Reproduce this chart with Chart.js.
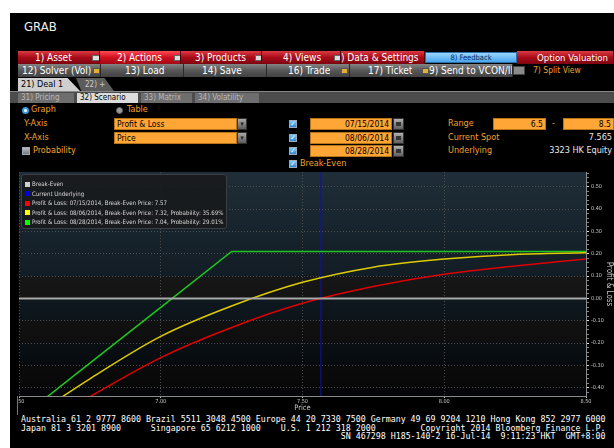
<!DOCTYPE html>
<html>
<head>
<meta charset="utf-8">
<title>GRAB - Option Valuation</title>
<script src="https://cdn.jsdelivr.net/npm/chart.js@4.4.1/dist/chart.umd.min.js"></script>
<style>
    html, body { margin: 0; padding: 0; width: 614px; height: 448px; overflow: hidden; background: #fff; }
    body { position: relative; font-family: "DejaVu Sans Condensed", "DejaVu Sans", sans-serif; font-stretch: condensed; }
    .a { position: absolute; white-space: nowrap; }
    #screen { left: 10px; top: 13px; width: 604px; height: 435px; background: #000; }
    #title { left: 24px; top: 19px; color: #eee; font-size: 13px; }

    .redbar { top: 51px; height: 13px; background: linear-gradient(#dc3a44, #a80b18 50%, #7c0610); border-right: 1px solid #4a0008; box-sizing: border-box; overflow: hidden; }
    .redbar.on { background: linear-gradient(#ff4a55, #d0101f 50%, #a00a16); }
    .bar-text { color: #fff; font-size: 10px; line-height: 13px; }
    .icon { width: 6px; height: 4px; background: #ddd; border: 1px solid #666; top: 4px; }
    .feedback { left: 425px; top: 52px; width: 92px; height: 11px; background: linear-gradient(#9ad6ff, #4aa6ec); border: 1px solid #2d6fa8; box-sizing: border-box; color: #0a2c5e; font-size: 7.5px; line-height: 9px; text-align: center; }

    .greybar { top: 64px; height: 13px; background: linear-gradient(#848484, #575757 50%, #424242); border-right: 1px solid #2a2a2a; box-sizing: border-box; overflow: hidden; }
    .gicon { width: 5px; height: 4px; background: #e0b030; border: 1px solid #555; top: 4px; }

    .tab { top: 78px; height: 13px; font-size: 9px; line-height: 13px; padding-left: 3px; box-sizing: border-box; }
    .subrow { left: 10px; top: 91px; width: 604px; height: 12px; background: #4c4c4c; border-top: 1px solid #888; box-sizing: border-box; }
    .sub { top: 93px; height: 10px; font-size: 8px; line-height: 10px; padding-left: 3px; box-sizing: border-box; background: #6e6e6e; color: #b8b8b8; }

    .org { color: #f0a030; font-size: 9px; line-height: 11px; }
    .wht { color: #e8e8e8; font-size: 9px; line-height: 11px; }
    .obox { height: 12px; background: #ffa636; border: 1px solid #b87418; box-sizing: border-box; color: #000; font-size: 8.5px; line-height: 10px; padding: 0 2px; }
    .btn { width: 10px; height: 12px; background: linear-gradient(#a8a8a8, #5c5c5c); border: 1px solid #333; box-sizing: border-box; color: #222; font-size: 7px; line-height: 10px; text-align: center; }
    .cal { width: 11px; height: 12px; background: linear-gradient(#b0b0b0, #606060); border: 1px solid #333; box-sizing: border-box; }
    .cal::after { content: ""; position: absolute; left: 2px; top: 3px; width: 5px; height: 4px; background: #333; }
    .chk { width: 8px; height: 8px; background: linear-gradient(#7cc8ff, #2f86d0); border: 1px solid #9ab; box-sizing: border-box; color: #fff; font-size: 7px; line-height: 7px; text-align: center; font-weight: bold; }
    .chk.off { background: linear-gradient(#bbb, #777); color: transparent; }
    .radio { width: 7px; height: 7px; border-radius: 50%; box-sizing: border-box; }

    #chart { position: absolute; left: 17px; top: 172px; }
    #legend { left: 21px; top: 174px; width: 206px; height: 55px; background: rgba(24, 26, 28, 0.9); border: 1px solid #3c3f44; border-radius: 3px; box-sizing: border-box; }
    .leg { position: absolute; left: 3px; color: #d8d8d8; font-size: 6.1px; line-height: 7px; white-space: nowrap; }
    .leg i { display: inline-block; width: 5px; height: 5px; margin-right: 2px; vertical-align: -0.5px; }

    .foot { color: #fff; font-family: "DejaVu Sans Mono", monospace; font-size: 8.3px; line-height: 8.6px; margin: 0; white-space: pre; }
</style>
</head>
<body>
<div class="a" id="screen"></div>
<div class="a" id="title">GRAB</div>

<!-- barra roja -->
<div class="a redbar" style="left:18px;width:82px"><span class="a bar-text" style="left:17px">1) Asset</span><span class="a icon" style="left:74px"></span></div>
<div class="a redbar on" style="left:100px;width:81px"><span class="a bar-text" style="left:17px">2) Actions</span><span class="a icon" style="left:74px"></span></div>
<div class="a redbar" style="left:181px;width:81px"><span class="a bar-text" style="left:14px">3) Products</span><span class="a icon" style="left:74px"></span></div>
<div class="a redbar" style="left:262px;width:79px"><span class="a bar-text" style="left:21px">4) Views</span><span class="a icon" style="left:72px"></span></div>
<div class="a redbar" style="left:341px;width:84px"><span class="a bar-text" style="left:0px">) Data &amp; Settings</span></div>
<div class="a feedback">8) Feedback</div>
<div class="a redbar" style="left:517px;width:97px"><span class="a bar-text" style="left:20px;font-size:9.5px">Option Valuation</span></div>

<!-- barra gris -->
<div class="a greybar" style="left:18px;width:83px"><span class="a bar-text" style="left:4px">12) Solver (Vol)</span><span class="a gicon" style="left:75px"></span></div>
<div class="a greybar" style="left:101px;width:83px"><span class="a bar-text" style="left:24px">13) Load</span></div>
<div class="a greybar" style="left:184px;width:83px"><span class="a bar-text" style="left:18px">14) Save</span></div>
<div class="a greybar" style="left:267px;width:83px"><span class="a bar-text" style="left:21px">16) Trade</span><span class="a gicon" style="left:74px"></span></div>
<div class="a greybar" style="left:350px;width:163px"><span class="a bar-text" style="left:18px">17) Ticket</span><span class="a gicon" style="left:72px"></span><span class="a bar-text" style="left:79px">9) Send to VCON/IB</span></div>
<div class="a" style="left:513px;top:66px;width:12px;height:9px;background:#8a8a8a;border:1px solid #444;box-sizing:border-box"></div>
<div class="a org" style="left:533px;top:65px;font-size:8.5px">7) Split View</div>

<!-- pestañas -->
<div class="a tab" style="left:18px;width:62px;background:#cfcfcf;color:#000;clip-path:polygon(0 0,80% 0,100% 100%,0 100%)">21) Deal 1</div>
<div class="a tab" style="left:76px;width:38px;background:#5c5c5c;color:#ccc;padding-left:9px;font-size:8px;clip-path:polygon(0 0,75% 0,100% 100%,14% 100%)">22) +</div>
<div class="a subrow"></div>
<div class="a sub" style="left:18px;width:56px">31) Pricing</div>
<div class="a sub" style="left:77px;width:61px;background:#dcdcdc;color:#000">32) Scenario</div>
<div class="a sub" style="left:141px;width:51px">33) Matrix</div>
<div class="a sub" style="left:195px;width:64px">34) Volatility</div>

<!-- controles -->
<div class="a radio" style="left:22px;top:107px;background:#fff;border:2px solid #3a9be0"></div>
<div class="a org" style="left:31px;top:104px">Graph</div>
<div class="a radio" style="left:116px;top:107px;background:#999;border:1px solid #666"></div>
<div class="a org" style="left:127px;top:104px">Table</div>

<div class="a org" style="left:24px;top:118px">Y-Axis</div>
<div class="a obox" style="left:114px;top:118px;width:123px">Profit &amp; Loss</div>
<div class="a btn" style="left:237px;top:118px">&#9662;</div>
<div class="a org" style="left:24px;top:132px">X-Axis</div>
<div class="a obox" style="left:114px;top:132px;width:123px">Price</div>
<div class="a btn" style="left:237px;top:132px">&#9662;</div>
<div class="a chk off" style="left:22px;top:147px"></div>
<div class="a org" style="left:33px;top:145px">Probability</div>

<div class="a chk" style="left:289px;top:120px">&#10003;</div>
<div class="a chk" style="left:289px;top:134px">&#10003;</div>
<div class="a chk" style="left:289px;top:147px">&#10003;</div>
<div class="a chk" style="left:289px;top:160px">&#10003;</div>
<div class="a org" style="left:300px;top:158px">Break-Even</div>
<div class="a obox" style="left:310px;top:118px;width:82px;text-align:right">07/15/2014</div>
<div class="a obox" style="left:310px;top:132px;width:82px;text-align:right">08/06/2014</div>
<div class="a obox" style="left:310px;top:145px;width:82px;text-align:right">08/28/2014</div>
<div class="a cal" style="left:393px;top:118px"></div>
<div class="a cal" style="left:393px;top:132px"></div>
<div class="a cal" style="left:393px;top:145px"></div>

<div class="a org" style="left:448px;top:118px">Range</div>
<div class="a obox" style="left:493px;top:118px;width:53px;text-align:right">6.5</div>
<div class="a org" style="left:552px;top:118px">-</div>
<div class="a obox" style="left:563px;top:118px;width:51px;text-align:right">8.5</div>
<div class="a org" style="left:448px;top:132px">Current Spot</div>
<div class="a wht" style="right:2px;top:132px">7.565</div>
<div class="a org" style="left:448px;top:145px">Underlying</div>
<div class="a wht" style="right:2px;top:145px">3323 HK Equity</div>

<!-- gráfico -->
<canvas id="chart" width="597" height="242"></canvas>
<div class="a" id="legend"></div>
<div class="a" style="left:17px;top:396px;width:1px;height:19px;background:#777"></div>

<pre class="a foot" style="left:21px;top:415px">Australia 61 2 9777 8600 Brazil 5511 3048 4500 Europe 44 20 7330 7500 Germany 49 69 9204 1210 Hong Kong 852 2977 6000
Japan 81 3 3201 8900      Singapore 65 6212 1000    U.S. 1 212 318 2000         Copyright 2014 Bloomberg Finance L.P.
                                                                SN 467298 H185-140-2 16-Jul-14  9:11:23 HKT  GMT+8:00</pre>

<script>
// Valores
const prices = [6.50, 6.75, 7.00, 7.25, 7.50, 7.75, 8.00, 8.25, 8.50];
const pnlJul15 = [-0.62, -0.44, -0.265, -0.13, -0.022, 0.053, 0.108, 0.145, 0.176];
const pnlAug06 = [-0.57, -0.36, -0.17, -0.034, 0.072, 0.14, 0.176, 0.197, 0.204];
const pnlAug28 = [-0.54, -0.29, -0.04, 0.21, 0.21, 0.21, 0.21, 0.21, 0.21];
const currentSpot = 7.565;
const breakEvenLevel = 0;

const xTickValues = [6.5, 7.0, 7.5, 8.0, 8.5];
const yTickValues = [-0.4, -0.3, -0.2, -0.1, 0.0, 0.1, 0.2, 0.3, 0.4, 0.5];
const yMin = -0.437;
const yMax = 0.566;

const legendLabels = [
    'Break-Even',
    'Current Underlying',
    'Profit & Loss: 07/15/2014, Break-Even Price: 7.57',
    'Profit & Loss: 08/06/2014, Break-Even Price: 7.32, Probability: 35.69%',
    'Profit & Loss: 08/28/2014, Break-Even Price: 7.04, Probability: 29.01%'
];
const legendColors = ['#d0d0d0', '#0000ee', '#ff0000', '#ffff00', '#00ff00'];

function toPoints(values) {
    return prices.map((p, i) => ({ x: p, y: values[i] }));
}

function isMajor(v) {
    return yTickValues.some(t => Math.abs(t - v) < 1e-6);
}

// Fondo del área del gráfico (bandas con degradado)
const plotBackground = {
    id: 'plotBackground',
    beforeDraw(chart) {
        const { ctx, chartArea: a, scales: { y } } = chart;
        ctx.save();
        const g = ctx.createLinearGradient(0, a.top, 0, a.bottom);
        g.addColorStop(0, '#1f2e38');
        g.addColorStop(0.5, '#111b23');
        g.addColorStop(1, '#030507');
        ctx.fillStyle = g;
        ctx.fillRect(a.left, a.top, a.width, a.height);
        const n = ctx.createLinearGradient(0, a.top, 0, a.bottom);
        n.addColorStop(0, '#242424');
        n.addColorStop(1, '#070707');
        ctx.fillStyle = n;
        [[0, 0.1], [-0.2, -0.1], [-0.4, -0.3]].forEach(([lo, hi]) => {
            const top = y.getPixelForValue(hi);
            const bottom = y.getPixelForValue(lo);
            ctx.fillRect(a.left, top, a.width, bottom - top);
        });
        ctx.restore();
    }
};

function renderLegend() {
    const box = document.getElementById('legend');
    legendLabels.forEach((text, i) => {
        const row = document.createElement('div');
        row.className = 'leg';
        row.style.top = (5 + i * 9.5) + 'px';
        row.innerHTML = '<i style="background:' + legendColors[i] + '"></i>';
        row.appendChild(document.createTextNode(text));
        box.appendChild(row);
    });
}

function renderChart() {
    const ctx = document.getElementById('chart').getContext('2d');
    const tickFont = { family: '"DejaVu Sans Condensed", "DejaVu Sans", sans-serif', size: 5.5 };

    new Chart(ctx, {
        type: 'scatter',
        data: {
            datasets: [
                {
                    label: legendLabels[0],
                    data: [{ x: prices[0], y: breakEvenLevel }, { x: prices[prices.length - 1], y: breakEvenLevel }],
                    showLine: true, borderColor: '#a8a8a8', borderWidth: 2, pointRadius: 0
                },
                {
                    label: legendLabels[2],
                    data: toPoints(pnlJul15),
                    showLine: true, borderColor: '#e00000', borderWidth: 1.5, pointRadius: 0,
                    cubicInterpolationMode: 'monotone'
                },
                {
                    label: legendLabels[3],
                    data: toPoints(pnlAug06),
                    showLine: true, borderColor: '#ddcc00', borderWidth: 1.5, pointRadius: 0,
                    cubicInterpolationMode: 'monotone'
                },
                {
                    label: legendLabels[4],
                    data: toPoints(pnlAug28),
                    showLine: true, borderColor: '#1ec81e', borderWidth: 1.5, pointRadius: 0, tension: 0
                },
                {
                    label: legendLabels[1],
                    data: [{ x: currentSpot, y: yMin }, { x: currentSpot, y: yMax }],
                    showLine: true, borderColor: '#1212a8', borderWidth: 1, pointRadius: 0
                }
            ]
        },
        options: {
            responsive: false,
            animation: false,
            devicePixelRatio: 1,
            layout: { padding: { left: 2, right: 0, top: 0, bottom: 0 } },
            plugins: {
                legend: { display: false },
                tooltip: { enabled: false }
            },
            scales: {
                x: {
                    type: 'linear',
                    min: prices[0],
                    max: prices[prices.length - 1],
                    afterBuildTicks: scale => { scale.ticks = xTickValues.map(v => ({ value: v })); },
                    afterFit: scale => { scale.height = 18; scale.paddingLeft = 0; scale.paddingRight = 0; },
                    grid: { color: '#4e4e4e', tickColor: '#bbb', tickLength: 2 },
                    border: { color: '#8a8a8a', dash: [1, 2] },
                    ticks: {
                        color: '#c8c8c8', font: tickFont, padding: 0, maxRotation: 0,
                        callback: v => v.toFixed(2)
                    },
                    title: {
                        display: true, text: 'Price', color: '#c8c8c8',
                        font: { family: tickFont.family, size: 7.5 }, padding: { top: 0, bottom: 1.5 }
                    }
                },
                y: {
                    type: 'linear',
                    position: 'right',
                    min: yMin,
                    max: yMax,
                    afterBuildTicks: scale => {
                        // ticks menores cada 0.02
                        const ticks = [];
                        for (let k = Math.ceil(yMin / 0.02); k * 0.02 <= yMax; k++) {
                            ticks.push({ value: Math.round(k * 2) / 100 });
                        }
                        scale.ticks = ticks;
                    },
                    afterFit: scale => { scale.width = 28; scale.paddingTop = 0; scale.paddingBottom = 0; },
                    grid: {
                        color: c => (c.tick && isMajor(c.tick.value)) ? '#4e4e4e' : 'transparent',
                        tickColor: c => (c.tick && isMajor(c.tick.value)) ? '#e0e0e0' : '#8a8a8a',
                        tickLength: 3
                    },
                    border: { color: '#8a8a8a', dash: [1, 2] },
                    ticks: {
                        color: '#c8c8c8', font: tickFont, padding: 2, autoSkip: false,
                        callback: v => isMajor(v) ? v.toFixed(2) : ''
                    },
                    title: {
                        display: true, text: 'Profit & Loss', color: '#c8c8c8',
                        font: { family: tickFont.family, size: 8 }, padding: { top: 0, bottom: 1 }
                    }
                }
            }
        },
        plugins: [plotBackground]
    });
}

document.addEventListener('DOMContentLoaded', () => {
    renderLegend();
    renderChart();
});
</script>
</body>
</html>
